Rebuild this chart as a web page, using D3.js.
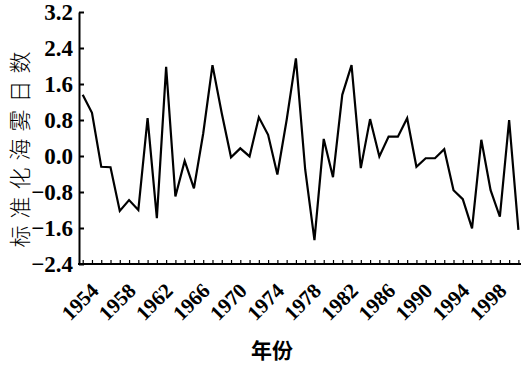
<!DOCTYPE html>
<html>
<head>
<meta charset="utf-8">
<script src="https://cdn.jsdelivr.net/npm/d3@7/dist/d3.min.js"></script>
<style>
  html, body { margin: 0; padding: 0; background: #fff; }
  svg { display: block; }
</style>
</head>
<body>
<svg id="chart" width="523" height="366"></svg>
<script>
// Standardized sea-fog day index, 1953–2000
const years = d3.range(1953, 2001);
const fogIndex = [
  1.36, 0.96, -0.24, -0.25, -1.22, -0.98, -1.20, 0.84, -1.38, 1.98,
  -0.90, -0.11, -0.72, 0.50, 2.02, 0.95, -0.03, 0.17, -0.01, 0.86,
  0.47, -0.41, 0.80, 2.17, -0.30, -1.87, 0.38, -0.47, 1.36, 2.02,
  -0.27, 0.82, -0.01, 0.43, 0.43, 0.84, -0.24, -0.05, -0.05, 0.15,
  -0.76, -0.96, -1.61, 0.36, -0.76, -1.35, 0.80, -1.64
];
const yTicks = [-2.4, -1.6, -0.8, 0.0, 0.8, 1.6, 2.4, 3.2];
const xLabelYears = [1954, 1958, 1962, 1966, 1970, 1974, 1978, 1982, 1986, 1990, 1994, 1998];
const yTitle = "标准化海雾日数";
const xTitle = "年份";

const svg = d3.select("#chart");
const axisX0 = 79, axisX1 = 521, axisYTop = 12, axisYBottom = 264;

const x = d3.scaleLinear().domain([1953, 2000]).range([82.7, 518.4]);
const y = d3.scaleLinear().domain([-2.4, 3.2]).range([axisYBottom, axisYTop]);

const numFont = "'Liberation Serif', 'DejaVu Serif', serif";

// Left axis, ticks pointing inward
const yAxis = svg.append("g")
  .attr("transform", `translate(${axisX0},0)`)
  .call(d3.axisLeft(y).tickValues(yTicks).tickSizeInner(-5).tickSizeOuter(0).tickPadding(6)
    .tickFormat(d => d3.format(".1f")(d).replace("-", "\u2013")));
yAxis.select(".domain").attr("stroke", "#000").attr("stroke-width", 2);
yAxis.selectAll(".tick line").attr("stroke", "#000").attr("stroke-width", 2);
yAxis.selectAll(".tick text")
  .attr("fill", "#000")
  .style("font-family", numFont)
  .style("font-size", "23px")
  .style("font-weight", "bold");

// Bottom axis with a short inward tick for every year
const xAxis = svg.append("g")
  .attr("transform", `translate(0,${axisYBottom})`)
  .call(d3.axisBottom(x).tickValues(years).tickSizeInner(-4).tickSizeOuter(0).tickFormat(""));
xAxis.select(".domain").remove();
xAxis.selectAll(".tick line").attr("stroke", "#000").attr("stroke-width", 1.2);
svg.append("line")
  .attr("x1", axisX0 - 1).attr("x2", axisX1)
  .attr("y1", axisYBottom).attr("y2", axisYBottom)
  .attr("stroke", "#000").attr("stroke-width", 2.2);

// Rotated year labels
svg.append("g").selectAll("text")
  .data(xLabelYears)
  .join("text")
  .attr("transform", d => `translate(${x(d) + 8},292) rotate(-45)`)
  .attr("text-anchor", "end")
  .style("font-family", numFont)
  .style("font-size", "21px")
  .style("font-weight", "bold")
  .attr("fill", "#000")
  .text(d => d);

// Index line
const line = d3.line()
  .x((d, i) => x(years[i]))
  .y(d => y(d));
svg.append("path")
  .datum(fogIndex)
  .attr("d", line)
  .attr("fill", "none")
  .attr("stroke", "#000")
  .attr("stroke-width", 2.2)
  .attr("stroke-linejoin", "miter");

// Axis titles
svg.append("text")
  .attr("transform", "translate(28,146) rotate(-90)")
  .attr("text-anchor", "middle")
  .style("font-family", "'Noto Sans CJK SC', sans-serif")
  .style("font-size", "22px")
  .style("font-weight", "300")
  .style("letter-spacing", "7px")
  .attr("fill", "#000")
  .text(yTitle);

svg.append("text")
  .attr("x", 272).attr("y", 358)
  .attr("text-anchor", "middle")
  .style("font-family", "'Noto Sans CJK SC', sans-serif")
  .style("font-size", "21px")
  .style("font-weight", "bold")
  .attr("fill", "#000")
  .text(xTitle);
</script>
</body>
</html>
